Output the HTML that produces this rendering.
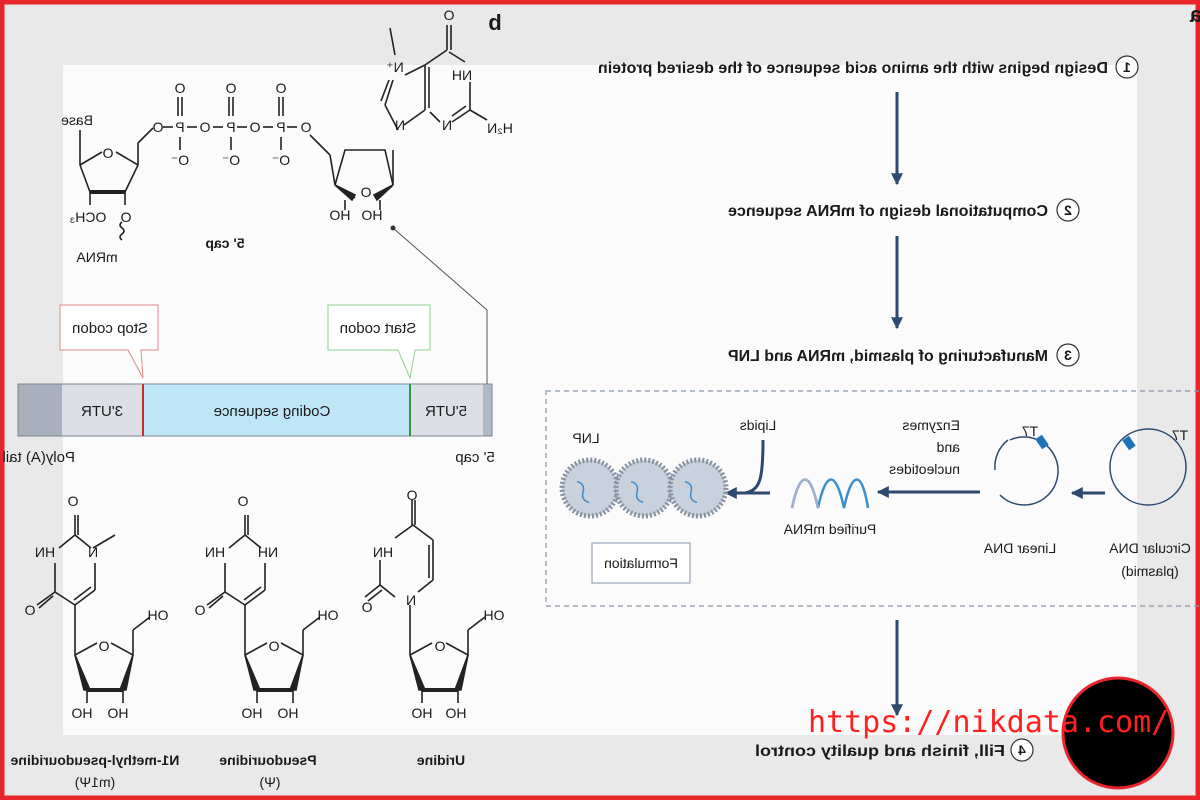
<!DOCTYPE html>
<html><head><meta charset="utf-8"><style>
html,body{margin:0;padding:0;width:1200px;height:800px;overflow:hidden;background:#e9e9e9}
svg{display:block}
text{font-family:"Liberation Sans",sans-serif;fill:#1a1a1a}
</style></head><body>
<svg width="1200" height="800" viewBox="0 0 1200 800" xmlns="http://www.w3.org/2000/svg">
<defs>
<marker id="ah" viewBox="0 0 10 10" refX="9" refY="5" markerWidth="4" markerHeight="5" orient="auto"><path d="M0,0 L10,5 L0,10 z" fill="#2d4a6e"/></marker>
<g id="nuc" stroke="#222" stroke-width="1.6" fill="none">
  <line x1="0" y1="0" x2="0" y2="-20"/><line x1="3" y1="0" x2="3" y2="-20"/>
  <line x1="0" y1="0" x2="16" y2="13"/>
  <line x1="0" y1="0" x2="-16" y2="13"/>
  <line x1="20" y1="28" x2="20" y2="55"/>
  <line x1="20" y1="55" x2="0" y2="70"/><line x1="16" y1="52" x2="-1" y2="65"/>
  <line x1="0" y1="70" x2="-20" y2="57"/>
  <line x1="-20" y1="57" x2="-20" y2="28"/>
  <line x1="-20" y1="57" x2="-38" y2="70"/><line x1="-22" y1="61" x2="-36" y2="73"/>
  <line x1="0" y1="70" x2="0" y2="120"/>
  <line x1="0" y1="120" x2="22" y2="108"/>
  <line x1="36" y1="108" x2="58" y2="120"/>
  <path d="M0,120 L12,155 L48,155 L58,120" stroke-width="1.6"/>
  <path d="M0,120 L9,155 L15,155 z" fill="#222"/>
  <path d="M58,120 L45,155 L51,155 z" fill="#222"/>
  <line x1="12" y1="155" x2="48" y2="155" stroke-width="4"/>
  <line x1="12" y1="155" x2="12" y2="168"/><line x1="48" y1="155" x2="48" y2="168"/>
  <line x1="58" y1="120" x2="58" y2="95"/><line x1="58" y1="95" x2="75" y2="82"/>
</g>
</defs>
<rect x="0" y="0" width="1200" height="800" fill="#e9e9e9"/>
<rect x="63" y="65" width="1074" height="670" fill="#fbfbfb"/>
<rect x="2" y="2" width="1196" height="796" fill="none" stroke="#e8252b" stroke-width="5"/>

<text transform="translate(495,30) scale(-1,1)" font-size="22" font-weight="bold" text-anchor="middle">b</text>
<text transform="translate(1196,22) scale(-1,1)" font-size="22" font-weight="bold" text-anchor="middle">a</text>

<g font-weight="bold" font-size="15.5">
<text transform="translate(1108,73) scale(-1,1)" text-anchor="start" textLength="510" lengthAdjust="spacingAndGlyphs">Design begins with the amino acid sequence of the desired protein</text>
<text transform="translate(1048,216) scale(-1,1)" text-anchor="start" textLength="320" lengthAdjust="spacingAndGlyphs">Computational design of mRNA sequence</text>
<text transform="translate(1048,361) scale(-1,1)" text-anchor="start" textLength="320" lengthAdjust="spacingAndGlyphs">Manufacturing of plasmid, mRNA and LNP</text>
<text transform="translate(1005,756) scale(-1,1)" text-anchor="start" textLength="250" lengthAdjust="spacingAndGlyphs">Fill, finish and quality control</text>
</g>
<g fill="#fff" stroke="#333" stroke-width="1.2">
<circle cx="1127" cy="67" r="11"/><circle cx="1068" cy="210" r="11"/><circle cx="1068" cy="355" r="11"/><circle cx="1022" cy="750" r="11"/>
</g>
<g font-weight="bold" font-size="14">
<text transform="translate(1127,72) scale(-1,1)" text-anchor="middle">1</text>
<text transform="translate(1068,215) scale(-1,1)" text-anchor="middle">2</text>
<text transform="translate(1068,360) scale(-1,1)" text-anchor="middle">3</text>
<text transform="translate(1022,755) scale(-1,1)" text-anchor="middle">4</text>
</g>
<g stroke="#2d4a6e" stroke-width="3" marker-end="url(#ah)">
<line x1="897" y1="92" x2="897" y2="184"/>
<line x1="897" y1="236" x2="897" y2="328"/>
<line x1="897" y1="620" x2="897" y2="715"/>
</g>

<rect x="546" y="391" width="660" height="215" fill="none" stroke="#8a96a8" stroke-width="1.2" stroke-dasharray="5,4"/>

<circle cx="1148" cy="467" r="38" fill="none" stroke="#2d4a6e" stroke-width="1.5"/>
<rect x="1125" y="437" width="8" height="12" fill="#1e73b8" transform="rotate(-35 1129 443)"/>
<text transform="translate(1180,440) scale(-1,1)" font-size="14" text-anchor="middle">T7</text>
<text transform="translate(1150,553) scale(-1,1)" font-size="14" text-anchor="middle">Circular DNA</text>
<text transform="translate(1150,576) scale(-1,1)" font-size="14" text-anchor="middle">(plasmid)</text>
<line x1="1105" y1="493" x2="1072" y2="493" stroke="#2d4a6e" stroke-width="3" marker-end="url(#ah)"/>
<path d="M1010,440 A34,34 0 1 1 1000,495" fill="none" stroke="#2d4a6e" stroke-width="1.5"/>
<path d="M995,470 A34,34 0 0 1 1008,440" fill="none" stroke="#2d4a6e" stroke-width="1.5"/>
<rect x="1038" y="436" width="8" height="12" fill="#1e73b8" transform="rotate(-35 1042 442)"/>
<text transform="translate(1030,436) scale(-1,1)" font-size="14" text-anchor="middle">T7</text>
<text transform="translate(1020,553) scale(-1,1)" font-size="14" text-anchor="middle">Linear DNA</text>
<g font-size="14">
<text transform="translate(960,430) scale(-1,1)" text-anchor="start">Enzymes</text>
<text transform="translate(960,452) scale(-1,1)" text-anchor="start">and</text>
<text transform="translate(960,474) scale(-1,1)" text-anchor="start">nucleotides</text>
</g>
<line x1="980" y1="492" x2="878" y2="492" stroke="#2d4a6e" stroke-width="3" marker-end="url(#ah)"/>
<path d="M792,508 C800,470 810,470 818,508 C826,470 836,470 844,508 C852,470 862,470 868,508" fill="none" stroke="#3a8fd0" stroke-width="2.5"/>
<path d="M792,508 C800,470 810,470 818,508" fill="none" stroke="#a0b0c8" stroke-width="2.5"/>
<text transform="translate(830,534) scale(-1,1)" font-size="14" text-anchor="middle">Purified mRNA</text>
<line x1="770" y1="493" x2="726" y2="493" stroke="#2d4a6e" stroke-width="3" marker-end="url(#ah)"/>
<path d="M763,440 C763,480 760,490 745,493" fill="none" stroke="#2d4a6e" stroke-width="3"/>
<text transform="translate(758,430) scale(-1,1)" font-size="14" text-anchor="middle">Lipids</text>
<g>
<circle cx="590" cy="488" r="28" fill="#c9d1dc" stroke="#8791a0" stroke-width="5" stroke-dasharray="2,2"/>
<circle cx="644" cy="488" r="28" fill="#c9d1dc" stroke="#8791a0" stroke-width="5" stroke-dasharray="2,2"/>
<circle cx="698" cy="488" r="28" fill="#c9d1dc" stroke="#8791a0" stroke-width="5" stroke-dasharray="2,2"/>
<path d="M582,476 q6,6 0,12 q-6,6 0,12" fill="none" stroke="#3a8fd0" stroke-width="1.5" transform="rotate(-30 590 488)"/>
<path d="M636,476 q6,6 0,12 q-6,6 0,12" fill="none" stroke="#3a8fd0" stroke-width="1.5" transform="rotate(-30 644 488)"/>
<path d="M690,476 q6,6 0,12 q-6,6 0,12" fill="none" stroke="#3a8fd0" stroke-width="1.5" transform="rotate(-30 698 488)"/>
</g>
<text transform="translate(586,443) scale(-1,1)" font-size="14" text-anchor="middle">LNP</text>
<rect x="592" y="543" width="98" height="40" fill="#fff" stroke="#9aa4b2" stroke-width="1.2"/>
<text transform="translate(641,568) scale(-1,1)" font-size="14" text-anchor="middle">Formulation</text>

<rect x="18" y="384" width="44" height="52" fill="#a8b1bc"/>
<rect x="62" y="384" width="81" height="52" fill="#dce0e6"/>
<rect x="143" y="384" width="267" height="52" fill="#bfe6f7"/>
<rect x="410" y="384" width="73" height="52" fill="#dce0e6"/>
<rect x="483" y="384" width="9" height="52" fill="#b0bac6"/>
<rect x="18" y="384" width="474" height="52" fill="none" stroke="#7a8594" stroke-width="1"/>
<line x1="143" y1="384" x2="143" y2="436" stroke="#d0282d" stroke-width="2"/>
<line x1="410" y1="384" x2="410" y2="436" stroke="#2a9a3a" stroke-width="2"/>
<g font-size="15">
<text transform="translate(102,416) scale(-1,1)" text-anchor="middle">3'UTR</text>
<text transform="translate(272,416) scale(-1,1)" text-anchor="middle">Coding sequence</text>
<text transform="translate(446,416) scale(-1,1)" text-anchor="middle">5'UTR</text>
<text transform="translate(75,462) scale(-1,1)" text-anchor="start">Poly(A) tail</text>
<text transform="translate(475,462) scale(-1,1)" text-anchor="middle">5' cap</text>
</g>
<path d="M60,305 H158 V350 H141 L143,378 L128,350 H60 Z" fill="#fff" stroke="#e08a8a" stroke-width="1"/>
<text transform="translate(110,333) scale(-1,1)" font-size="15" text-anchor="middle">Stop codon</text>
<path d="M328,305 H430 V350 H415 L410,378 L398,350 H328 Z" fill="#fff" stroke="#8fd08f" stroke-width="1"/>
<text transform="translate(378,333) scale(-1,1)" font-size="15" text-anchor="middle">Start codon</text>
<path d="M393,228 L487,310 L487,384" fill="none" stroke="#555" stroke-width="1"/>
<circle cx="393" cy="228" r="2.5" fill="#333"/>

<g stroke="#222" stroke-width="1.6" fill="none">
  <line x1="80" y1="130" x2="80" y2="165"/>
  <line x1="80" y1="165" x2="102" y2="152"/><line x1="116" y1="152" x2="138" y2="165"/>
  <path d="M80,165 L90,192 L125,192 L138,165"/>
  <line x1="90" y1="192" x2="125" y2="192" stroke-width="4"/>
  <line x1="90" y1="192" x2="90" y2="205"/><line x1="125" y1="192" x2="125" y2="205"/>
  <line x1="138" y1="165" x2="138" y2="143"/><line x1="138" y1="143" x2="153" y2="128"/>
  <path d="M122,222 q-4,3 0,6 q4,3 0,6 q-4,3 0,6" />
  <line x1="163" y1="127" x2="173" y2="127"/><line x1="187" y1="127" x2="197" y2="127"/>
  <line x1="213" y1="127" x2="223" y2="127"/><line x1="237" y1="127" x2="247" y2="127"/>
  <line x1="263" y1="127" x2="273" y2="127"/><line x1="287" y1="127" x2="297" y2="127"/>
  <line x1="178" y1="97" x2="178" y2="116"/><line x1="182" y1="97" x2="182" y2="116"/>
  <line x1="229" y1="97" x2="229" y2="116"/><line x1="233" y1="97" x2="233" y2="116"/>
  <line x1="279" y1="97" x2="279" y2="116"/><line x1="283" y1="97" x2="283" y2="116"/>
  <line x1="180" y1="137" x2="180" y2="150"/><line x1="231" y1="137" x2="231" y2="150"/><line x1="281" y1="137" x2="281" y2="150"/>
  <line x1="310" y1="135" x2="330" y2="155"/><line x1="330" y1="155" x2="335" y2="185"/>
  <path d="M335,185 L345,150 L385,150 L393,185"/>
  <path d="M335,185 L355,198 M375,198 L393,185"/>
  <path d="M335,185 L352,200 L355,195 z" fill="#222"/>
  <path d="M393,185 L377,200 L374,195 z" fill="#222"/>
  <line x1="345" y1="200" x2="345" y2="210"/><line x1="380" y1="200" x2="380" y2="210"/>
  <line x1="393" y1="185" x2="393" y2="150"/>
  <line x1="398" y1="130" x2="385" y2="105"/><line x1="385" y1="105" x2="393" y2="80"/><line x1="381" y1="101" x2="389" y2="80"/>
  <line x1="405" y1="75" x2="425" y2="65"/>
  <line x1="425" y1="65" x2="425" y2="110"/><line x1="429" y1="67" x2="429" y2="108"/>
  <line x1="404" y1="125" x2="425" y2="110"/>
  <line x1="425" y1="65" x2="447" y2="50"/><line x1="447" y1="50" x2="447" y2="25"/><line x1="451" y1="50" x2="451" y2="25"/>
  <line x1="449" y1="52" x2="465" y2="62"/>
  <line x1="470" y1="82" x2="470" y2="110"/><line x1="470" y1="110" x2="452" y2="122"/><line x1="466" y1="106" x2="452" y2="116"/>
  <line x1="430" y1="112" x2="440" y2="122"/>
  <line x1="470" y1="110" x2="487" y2="120"/>
  <line x1="395" y1="55" x2="390" y2="28"/>
</g>
<g font-size="14">
<text transform="translate(77,125) scale(-1,1)" text-anchor="middle">Base</text>
<text transform="translate(108,158) scale(-1,1)" text-anchor="middle">O</text>
<text transform="translate(88,222) scale(-1,1)" text-anchor="middle">OCH₃</text>
<text transform="translate(126,222) scale(-1,1)" text-anchor="middle">O</text>
<text transform="translate(97,262) scale(-1,1)" text-anchor="middle">mRNA</text>
<text transform="translate(158,132) scale(-1,1)" text-anchor="middle">O</text>
<text transform="translate(180,132) scale(-1,1)" text-anchor="middle">P</text>
<text transform="translate(205,132) scale(-1,1)" text-anchor="middle">O</text>
<text transform="translate(231,132) scale(-1,1)" text-anchor="middle">P</text>
<text transform="translate(255,132) scale(-1,1)" text-anchor="middle">O</text>
<text transform="translate(281,132) scale(-1,1)" text-anchor="middle">P</text>
<text transform="translate(306,132) scale(-1,1)" text-anchor="middle">O</text>
<text transform="translate(180,93) scale(-1,1)" text-anchor="middle">O</text>
<text transform="translate(231,93) scale(-1,1)" text-anchor="middle">O</text>
<text transform="translate(281,93) scale(-1,1)" text-anchor="middle">O</text>
<text transform="translate(180,165) scale(-1,1)" text-anchor="middle">O⁻</text>
<text transform="translate(231,165) scale(-1,1)" text-anchor="middle">O⁻</text>
<text transform="translate(281,165) scale(-1,1)" text-anchor="middle">O⁻</text>
<text transform="translate(340,220) scale(-1,1)" text-anchor="middle">HO</text>
<text transform="translate(372,220) scale(-1,1)" text-anchor="middle">HO</text>
<text transform="translate(366,197) scale(-1,1)" text-anchor="middle">O</text>
<text transform="translate(400,130) scale(-1,1)" text-anchor="middle">N</text>
<text transform="translate(447,130) scale(-1,1)" text-anchor="middle">N</text>
<text transform="translate(500,133) scale(-1,1)" text-anchor="middle">H₂N</text>
<text transform="translate(462,80) scale(-1,1)" text-anchor="middle">NH</text>
<text transform="translate(449,20) scale(-1,1)" text-anchor="middle">O</text>
<text transform="translate(395,72) scale(-1,1)" text-anchor="middle">N⁺</text>
<text transform="translate(225,248) scale(-1,1)" text-anchor="middle" font-weight="bold">5' cap</text>
</g>

<use href="#nuc" x="75" y="535"/>
<use href="#nuc" x="245" y="535"/>
<g stroke="#222" stroke-width="1.6" fill="none">
  <line x1="412" y1="525" x2="412" y2="500"/><line x1="415" y1="525" x2="415" y2="500"/>
  <line x1="413" y1="525" x2="433" y2="540"/><line x1="413" y1="525" x2="395" y2="538"/>
  <line x1="433" y1="540" x2="433" y2="580"/><line x1="429" y1="545" x2="429" y2="578"/>
  <line x1="433" y1="580" x2="418" y2="592"/>
  <line x1="380" y1="560" x2="380" y2="585"/><line x1="380" y1="585" x2="395" y2="597"/>
  <line x1="380" y1="585" x2="365" y2="597"/><line x1="382" y1="590" x2="368" y2="601"/>
  <line x1="410" y1="605" x2="410" y2="655"/>
  <line x1="410" y1="655" x2="432" y2="643"/><line x1="446" y1="643" x2="468" y2="655"/>
  <path d="M410,655 L422,690 L458,690 L468,655"/>
  <path d="M410,655 L419,690 L425,690 z" fill="#222"/><path d="M468,655 L455,690 L461,690 z" fill="#222"/>
  <line x1="422" y1="690" x2="458" y2="690" stroke-width="4"/>
  <line x1="422" y1="690" x2="422" y2="703"/><line x1="458" y1="690" x2="458" y2="703"/>
  <line x1="468" y1="655" x2="468" y2="630"/><line x1="468" y1="630" x2="485" y2="617"/>
  <line x1="93" y1="548" x2="115" y2="535"/>
</g>
<g font-size="14">
  <text transform="translate(73,506) scale(-1,1)" text-anchor="middle">O</text>
  <text transform="translate(45,557) scale(-1,1)" text-anchor="middle">HN</text>
  <text transform="translate(93,557) scale(-1,1)" text-anchor="middle">N</text>
  <text transform="translate(30,615) scale(-1,1)" text-anchor="middle">O</text>
  <text transform="translate(104,651) scale(-1,1)" text-anchor="middle">O</text>
  <text transform="translate(158,620) scale(-1,1)" text-anchor="middle">OH</text>
  <text transform="translate(82,718) scale(-1,1)" text-anchor="middle">HO</text>
  <text transform="translate(118,718) scale(-1,1)" text-anchor="middle">HO</text>
  <text transform="translate(243,506) scale(-1,1)" text-anchor="middle">O</text>
  <text transform="translate(215,557) scale(-1,1)" text-anchor="middle">HN</text>
  <text transform="translate(268,557) scale(-1,1)" text-anchor="middle">NH</text>
  <text transform="translate(200,615) scale(-1,1)" text-anchor="middle">O</text>
  <text transform="translate(274,651) scale(-1,1)" text-anchor="middle">O</text>
  <text transform="translate(328,620) scale(-1,1)" text-anchor="middle">OH</text>
  <text transform="translate(252,718) scale(-1,1)" text-anchor="middle">HO</text>
  <text transform="translate(288,718) scale(-1,1)" text-anchor="middle">HO</text>
  <text transform="translate(412,500) scale(-1,1)" text-anchor="middle">O</text>
  <text transform="translate(383,557) scale(-1,1)" text-anchor="middle">HN</text>
  <text transform="translate(411,605) scale(-1,1)" text-anchor="middle">N</text>
  <text transform="translate(367,612) scale(-1,1)" text-anchor="middle">O</text>
  <text transform="translate(440,651) scale(-1,1)" text-anchor="middle">O</text>
  <text transform="translate(494,620) scale(-1,1)" text-anchor="middle">OH</text>
  <text transform="translate(422,718) scale(-1,1)" text-anchor="middle">HO</text>
  <text transform="translate(456,718) scale(-1,1)" text-anchor="middle">HO</text>
</g>
<g font-size="14">
<text transform="translate(95,765) scale(-1,1)" text-anchor="middle" font-weight="bold">N1-methyl-pseudouridine</text>
<text transform="translate(95,787) scale(-1,1)" text-anchor="middle">(m1Ψ)</text>
<text transform="translate(268,765) scale(-1,1)" text-anchor="middle" font-weight="bold">Pseudouridine</text>
<text transform="translate(270,787) scale(-1,1)" text-anchor="middle">(Ψ)</text>
<text transform="translate(441,765) scale(-1,1)" text-anchor="middle" font-weight="bold">Uridine</text>
</g>

<circle cx="1118" cy="733" r="55" fill="#000" stroke="#e8252b" stroke-width="3"/>
<text x="808" y="732" font-size="30" style="fill:#ff2020;font-family:'DejaVu Sans Mono','Liberation Mono',monospace">https://nikdata.com/</text>
</svg>
</body></html>
